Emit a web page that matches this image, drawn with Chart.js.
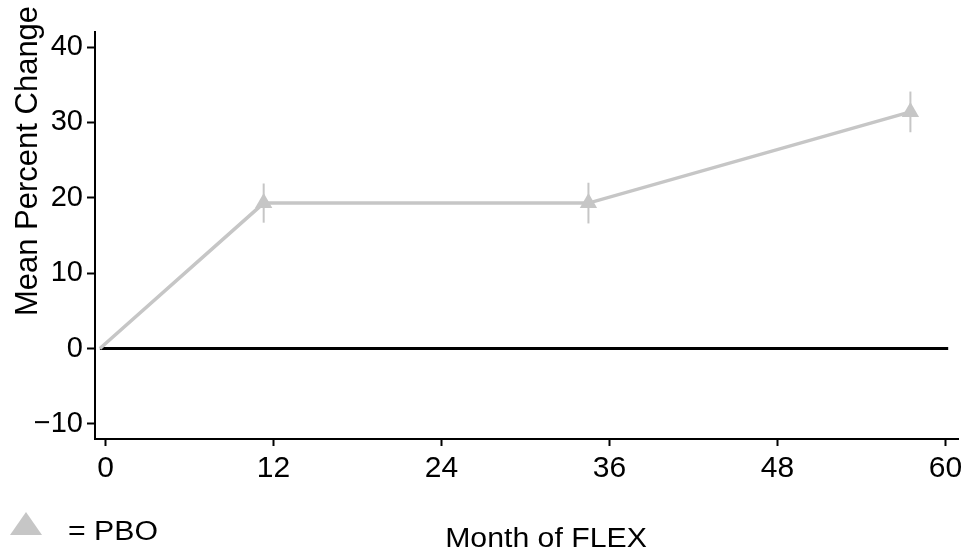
<!DOCTYPE html>
<html>
<head>
<meta charset="utf-8">
<script src="https://cdn.jsdelivr.net/npm/chart.js@4.4.0/dist/chart.umd.min.js"></script>
<style>
  html, body { margin: 0; padding: 0; background: #fff; }
  #wrap { width: 968px; height: 552px; position: relative; }
</style>
</head>
<body>
<div id="wrap"><canvas id="grafico"></canvas></div>
<script>
// dados
const meses = [-0.4, 11.3, 34.5, 57.5];
const mediaPBO = [0, 19.3, 19.3, 31.4];
const erroPBO = [0, 2.6, 2.7, 2.7];
const raioPonto = [0, 10, 10, 10];
const linhaZeroX = [-0.4, 60.2];
const ticksX = [0, 12, 24, 36, 48, 60];
const ticksY = [-10, 0, 10, 20, 30, 40];

const tituloX = 'Month of FLEX';
const tituloY = 'Mean Percent Change';
const legendaPBO = '= PBO';

const cinza = '#c6c6c6';
const fonte = '"Liberation Sans", Arial, sans-serif';

Chart.defaults.font.family = fonte;
Chart.defaults.color = '#000';

// barras de erro, títulos dos eixos e legenda
const extras = {
    id: 'extras',
    beforeDatasetsDraw(chart) {
        const ctx = chart.ctx;
        const x = chart.scales.x;
        const y = chart.scales.y;
        ctx.save();
        ctx.strokeStyle = cinza;
        ctx.lineWidth = 2;
        meses.forEach((m, i) => {
            if (!erroPBO[i]) return;
            const px = x.getPixelForValue(m);
            ctx.beginPath();
            ctx.moveTo(px, y.getPixelForValue(mediaPBO[i] + erroPBO[i]));
            ctx.lineTo(px, y.getPixelForValue(mediaPBO[i] - erroPBO[i]));
            ctx.stroke();
        });
        ctx.restore();
    },
    afterDraw(chart) {
        const ctx = chart.ctx;
        ctx.save();
        ctx.fillStyle = '#000';

        // título do eixo y
        ctx.save();
        ctx.translate(28, 161);
        ctx.rotate(-Math.PI / 2);
        ctx.font = '31px ' + fonte;
        ctx.textAlign = 'center';
        ctx.textBaseline = 'middle';
        ctx.fillText(tituloY, 0, 0);
        ctx.restore();

        // título do eixo x
        ctx.save();
        ctx.translate(546, 547);
        ctx.scale(1.12, 1);
        ctx.font = '27px ' + fonte;
        ctx.textAlign = 'center';
        ctx.textBaseline = 'alphabetic';
        ctx.fillText(tituloX, 0, 0);
        ctx.restore();

        // legenda
        ctx.fillStyle = cinza;
        ctx.beginPath();
        ctx.moveTo(10, 535);
        ctx.lineTo(42, 535);
        ctx.lineTo(26, 512);
        ctx.closePath();
        ctx.fill();

        ctx.fillStyle = '#000';
        ctx.translate(68, 540);
        ctx.scale(1.12, 1);
        ctx.font = '27px ' + fonte;
        ctx.textAlign = 'left';
        ctx.textBaseline = 'alphabetic';
        ctx.fillText(legendaPBO, 0, 0);
        ctx.restore();
    }
};

new Chart(document.getElementById('grafico'), {
    type: 'line',
    data: {
        datasets: [{
            label: 'PBO',
            data: meses.map((m, i) => ({ x: m, y: mediaPBO[i] })),
            borderColor: cinza,
            backgroundColor: cinza,
            borderWidth: 3.5,
            pointStyle: 'triangle',
            pointRadius: raioPonto,
            pointBorderWidth: 0,
            tension: 0
        }, {
            label: 'zero',
            data: linhaZeroX.map(m => ({ x: m, y: 0 })),
            borderColor: '#000',
            borderWidth: 3,
            pointRadius: 0
        }]
    },
    options: {
        responsive: true,
        maintainAspectRatio: false,
        animation: false,
        layout: { padding: { top: 32, right: 10, left: 0, bottom: 0 } },
        plugins: {
            legend: { display: false },
            tooltip: { enabled: false },
            title: { display: false }
        },
        scales: {
            x: {
                type: 'linear',
                min: -0.75,
                max: 60.9,
                afterBuildTicks: s => { s.ticks = ticksX.map(v => ({ value: v })); },
                afterFit: s => { s.height = 113; },
                border: { display: true, color: '#000', width: 2 },
                grid: { drawOnChartArea: false, drawTicks: true, tickLength: 7, tickColor: '#000', tickWidth: 2 },
                ticks: { font: { size: 30 }, padding: 5, maxRotation: 0 }
            },
            y: {
                min: -12,
                max: 42,
                afterBuildTicks: s => { s.ticks = ticksY.map(v => ({ value: v })); },
                afterFit: s => { s.width = 95; },
                border: { display: true, color: '#000', width: 2 },
                grid: { drawOnChartArea: false, drawTicks: true, tickLength: 8, tickColor: '#000', tickWidth: 2 },
                ticks: {
                    font: { size: 29 },
                    padding: 4,
                    callback: v => v < 0 ? '\u2212' + Math.abs(v) : String(v)
                }
            }
        }
    },
    plugins: [extras]
});
</script>
</body>
</html>
